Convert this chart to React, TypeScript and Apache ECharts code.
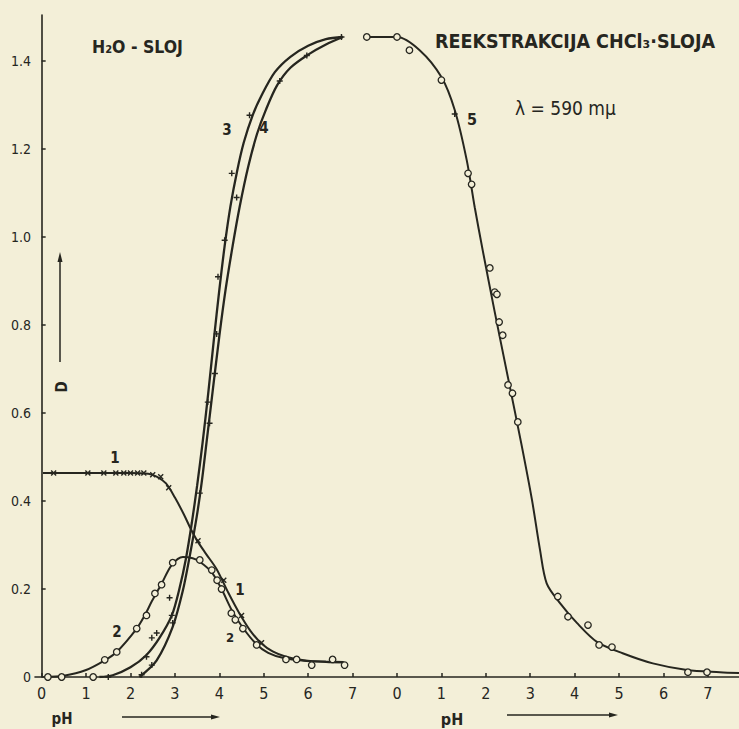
import React, { useEffect, useRef } from "react";
import * as echarts from "echarts";

// ---- axis ticks ----
const yTicks = [0, 0.2, 0.4, 0.6, 0.8, 1.0, 1.2, 1.4];
const xTicksLeft = [0, 1, 2, 3, 4, 5, 6, 7];
const xTicksRight = [0, 1, 2, 3, 4, 5, 6, 7];
const rightOffset = 8; // right panel pH 0 sits at position 8 of the shared axis

// ---- H2O layer (left panel, pH) ----
const curve1Line = [
  [0.03, 0.464], [1.0, 0.464], [2.0, 0.464], [2.4, 0.462], [2.6, 0.455], [2.8, 0.44],
  [3.0, 0.408], [3.2, 0.37], [3.35, 0.338], [3.5, 0.31], [3.7, 0.28], [3.94, 0.245],
  [4.2, 0.192], [4.45, 0.145], [4.7, 0.105], [4.95, 0.076], [5.2, 0.058], [5.5, 0.046],
  [5.9, 0.038], [6.4, 0.034], [6.8, 0.033],
];
const curve1Marks = [
  [0.27, 0.464], [1.04, 0.464], [1.4, 0.464], [1.67, 0.464], [1.85, 0.464], [2.0, 0.464],
  [2.16, 0.464], [2.3, 0.464], [2.5, 0.46], [2.68, 0.455], [2.86, 0.43], [3.52, 0.31],
  [4.1, 0.22], [4.5, 0.14], [4.95, 0.078],
];
const curve2Line = [
  [0.05, 0.0], [0.5, 0.003], [1.0, 0.016], [1.42, 0.038], [1.69, 0.057], [2.14, 0.11],
  [2.32, 0.14], [2.48, 0.172], [2.7, 0.212], [2.93, 0.255], [3.18, 0.273], [3.4, 0.27],
  [3.56, 0.262], [3.83, 0.238], [4.05, 0.2], [4.28, 0.152], [4.53, 0.112], [4.84, 0.074],
  [5.1, 0.055], [5.45, 0.043], [5.9, 0.037], [6.4, 0.035], [6.8, 0.034],
];
const curve2Marks = [
  [0.14, 0.0], [0.45, 0.0], [1.16, 0.0], [1.42, 0.039], [1.69, 0.057], [2.14, 0.11],
  [2.36, 0.14], [2.55, 0.19], [2.7, 0.21], [2.95, 0.26], [3.56, 0.266], [3.83, 0.243],
  [3.95, 0.22], [4.05, 0.2], [4.27, 0.145], [4.36, 0.13], [4.53, 0.11], [4.84, 0.073],
  [5.5, 0.04], [5.74, 0.04], [6.08, 0.027], [6.55, 0.04], [6.82, 0.027],
];
const curve3Line = [
  [1.3, 0.0], [1.6, 0.004], [2.0, 0.022], [2.36, 0.05], [2.66, 0.09], [2.93, 0.14],
  [3.1, 0.2], [3.25, 0.27], [3.38, 0.35], [3.5, 0.435], [3.62, 0.53], [3.75, 0.645],
  [3.88, 0.77], [4.0, 0.88], [4.12, 0.98], [4.25, 1.07], [4.4, 1.15], [4.55, 1.215],
  [4.75, 1.277], [4.95, 1.322], [5.25, 1.375], [5.6, 1.41], [6.0, 1.435], [6.4, 1.45],
  [6.78, 1.455],
];
const curve3Marks = [
  [1.5, 0.0], [2.25, 0.005], [2.36, 0.046], [2.48, 0.089], [2.59, 0.1], [2.88, 0.18],
  [3.56, 0.418], [3.74, 0.625], [3.9, 0.69], [3.97, 0.91], [4.12, 0.993], [4.28, 1.145],
  [4.68, 1.277],
];
const curve4Line = [
  [2.2, 0.0], [2.59, 0.038], [2.95, 0.114], [3.18, 0.197], [3.33, 0.273], [3.49, 0.364],
  [3.6, 0.44], [3.72, 0.54], [3.85, 0.65], [4.0, 0.775], [4.14, 0.88], [4.3, 0.98],
  [4.46, 1.07], [4.65, 1.16], [4.85, 1.235], [5.05, 1.29], [5.3, 1.345], [5.6, 1.385],
  [6.0, 1.415], [6.4, 1.438], [6.78, 1.455],
];
const curve4Marks = [
  [2.48, 0.027], [2.93, 0.14], [2.95, 0.123], [3.78, 0.577], [3.94, 0.78], [4.39, 1.09],
  [5.36, 1.355], [5.97, 1.413], [6.75, 1.455],
];

// ---- CHCl3 layer re-extraction (right panel, pH) ----
const curve5Line = [
  [-0.75, 1.455], [0.0, 1.455], [0.51, 1.425], [1.0, 1.364], [1.3, 1.289], [1.57, 1.175],
  [1.75, 1.068], [1.93, 0.97], [2.2, 0.83], [2.5, 0.68], [2.8, 0.53], [3.04, 0.402],
  [3.22, 0.289], [3.37, 0.213], [3.67, 0.168], [4.05, 0.123], [4.5, 0.08], [5.08, 0.054],
  [5.76, 0.031], [6.53, 0.016], [7.27, 0.011], [7.7, 0.009],
];
const curve5Marks = [
  [-0.68, 1.455], [0.0, 1.455], [0.28, 1.425], [1.0, 1.357], [1.6, 1.145], [1.68, 1.12],
  [2.09, 0.93], [2.2, 0.875], [2.25, 0.87], [2.3, 0.807], [2.38, 0.777], [2.5, 0.664],
  [2.6, 0.645], [2.72, 0.58], [3.62, 0.183], [3.85, 0.137], [4.3, 0.118], [4.55, 0.073],
  [4.84, 0.068], [6.55, 0.011], [6.98, 0.011],
];
const curve5Cross = [[1.3, 1.28]];

const paper = "#f3efd8";
const ink = "#26261f";
const hand = "'DejaVu Sans Condensed', 'DejaVu Sans', sans-serif";

const shift = (arr: number[][], off: number) => arr.map(([x, y]) => [x + off, y]);

export default function App() {
  const ref = useRef<HTMLDivElement>(null);
  useEffect(() => {
    if (!ref.current) return;
    const chart = echarts.init(ref.current, undefined, { renderer: "svg" });
    const xTickPos = [...xTicksLeft, ...xTicksRight.map((v) => v + rightOffset)];

    const lineSeries = (data: number[][], width = 2) => ({
      type: "line",
      data,
      smooth: 0.3,
      showSymbol: false,
      silent: true,
      lineStyle: { color: ink, width },
      z: 2,
    });
    const circles = (data: number[][]) => ({
      type: "scatter",
      data,
      symbol: "circle",
      symbolSize: 6.5,
      itemStyle: { color: paper, borderColor: ink, borderWidth: 1.3, opacity: 1 },
      z: 3,
    });
    const crosses = (data: number[][], sym: string, size: number) => ({
      type: "scatter",
      data,
      symbol: sym,
      symbolSize: size,
      itemStyle: { color: "transparent", borderColor: ink, borderWidth: 1.4, opacity: 1 },
      z: 3,
    });
    const xSym = "path://M0,0L10,10M0,10L10,0";
    const plusSym = "path://M0,5L10,5M5,0L5,10";

    const arrowRight = (x1: number, x2: number, y: number) => [
      { type: "line", shape: { x1, y1: y, x2: x2 - 6, y2: y }, style: { stroke: ink, lineWidth: 1.5 } },
      { type: "polygon", shape: { points: [[x2 - 9, y - 2.5], [x2, y], [x2 - 9, y + 2.5]] }, style: { fill: ink } },
    ];
    const num = (text: string, x: number, y: number, size = 15) => ({
      type: "text", x, y,
      style: { text, fontSize: size, fontWeight: "bold", fontFamily: hand, fill: ink, align: "center", verticalAlign: "middle" },
    });

    chart.setOption({
      animation: false,
      backgroundColor: paper,
      grid: { left: 35, right: 0, top: 15, bottom: 52 },
      xAxis: {
        type: "value",
        min: -0.15,
        max: 15.7,
        axisLine: { show: true, onZero: false, lineStyle: { color: ink, width: 1.6 } },
        axisTick: { show: true, inside: true, length: 4, customValues: xTickPos, lineStyle: { color: ink, width: 1.5 } },
        axisLabel: {
          customValues: xTickPos,
          formatter: (v: number) => String(v >= rightOffset ? v - rightOffset : v),
          color: ink,
          fontSize: 16,
          fontFamily: hand,
          margin: 8,
        },
        splitLine: { show: false },
      },
      yAxis: {
        type: "value",
        min: 0,
        max: 1.505,
        axisLine: { show: true, lineStyle: { color: ink, width: 1.6 } },
        axisTick: { show: true, inside: true, length: 4, customValues: yTicks, lineStyle: { color: ink, width: 1.5 } },
        axisLabel: {
          customValues: yTicks,
          formatter: (v: number) => (v === 0 ? "0" : v.toFixed(1)),
          color: ink,
          fontSize: 14,
          fontFamily: hand,
          margin: 4,
        },
        splitLine: { show: false },
      },
      series: [
        lineSeries(curve1Line),
        lineSeries(curve2Line),
        lineSeries(curve3Line, 2.3),
        lineSeries(curve4Line, 2.3),
        lineSeries(shift(curve5Line, rightOffset)),
        crosses(curve1Marks, xSym, 5),
        circles(curve2Marks),
        crosses(curve3Marks, plusSym, 6),
        crosses(curve4Marks, plusSym, 6),
        circles(shift(curve5Marks, rightOffset)),
        crosses(shift(curve5Cross, rightOffset), plusSym, 6),
      ],
      graphic: [
        { type: "text", left: 92, top: 38, style: { text: "H₂O - SLOJ", fontSize: 17.5, fontWeight: "bold", fontFamily: hand, fill: ink } },
        { type: "text", left: 435, top: 31, style: { text: "REEKSTRAKCIJA CHCl₃·SLOJA", fontSize: 19.5, fontWeight: "bold", fontFamily: hand, fill: ink } },
        { type: "text", left: 515, top: 98, style: { text: "λ = 590 mμ", fontSize: 19, fontFamily: hand, fill: ink } },
        num("1", 115, 458),
        num("1", 240, 590),
        num("2", 230, 637, 13),
        num("2", 117, 632),
        num("3", 227, 130),
        num("4", 264, 128),
        num("5", 472, 119, 16),
        // axis name D with upward arrow
        { type: "text", x: 62, y: 387, rotation: Math.PI / 2, style: { text: "D", fontSize: 15, fontWeight: "bold", fontFamily: hand, fill: ink, align: "center", verticalAlign: "middle" } },
        { type: "line", shape: { x1: 60, y1: 362, x2: 60, y2: 258 }, style: { stroke: ink, lineWidth: 1.5 } },
        { type: "polygon", shape: { points: [[57.5, 262], [60, 252], [62.5, 262]] }, style: { fill: ink } },
        // pH labels with arrows
        num("pH", 62, 719, 15),
        ...arrowRight(122, 220, 717),
        num("pH", 452, 719, 16),
        ...arrowRight(507, 618, 715),
      ],
    });
    return () => chart.dispose();
  }, []);
  return (
    <div
      ref={ref}
      style={{ position: "fixed", left: 0, top: 0, width: 739, height: 729, background: paper }}
    />
  );
}
